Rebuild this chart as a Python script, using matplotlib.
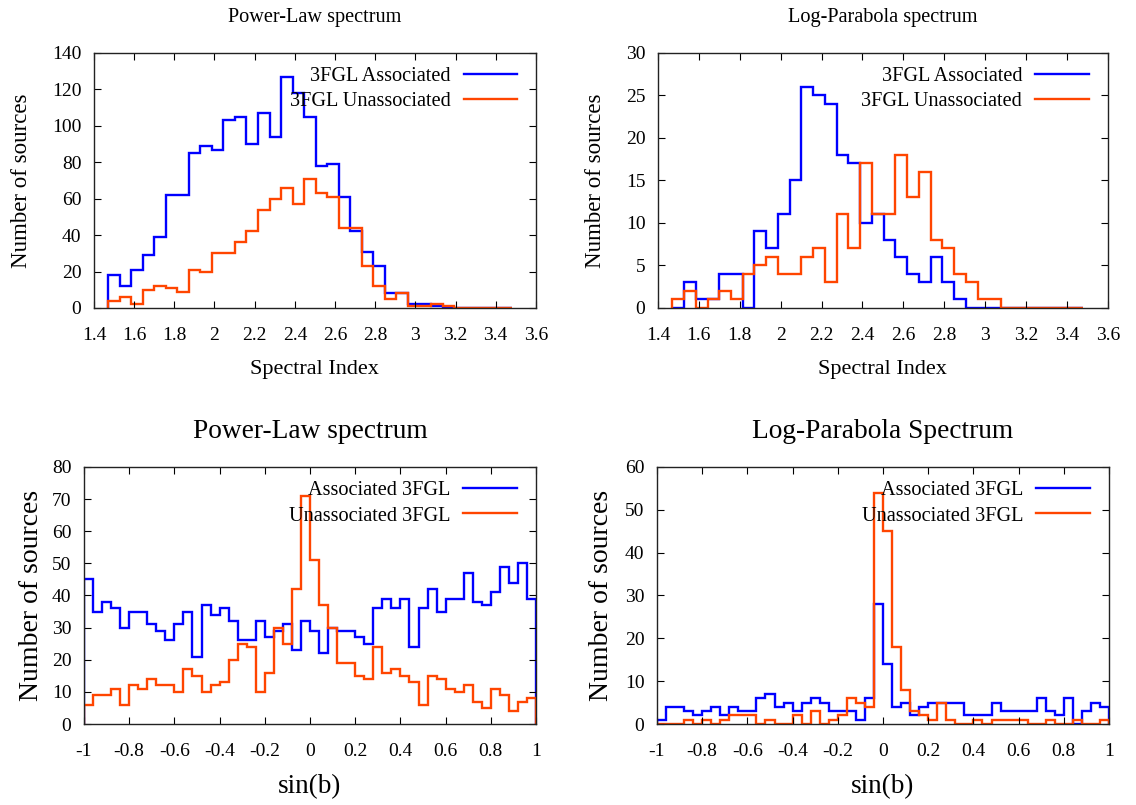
import numpy as np
import matplotlib
matplotlib.use('Agg')
import matplotlib.pyplot as plt
import matplotlib.ticker as mticker

plt.rcParams['font.family'] = ['Liberation Serif', 'DejaVu Serif']
plt.rcParams['axes.unicode_minus'] = False

# spectral index histograms: 35 bins between 1.47 and 3.48
index_edges = np.linspace(1.47, 3.48, 36)
pl_assoc = [18, 12, 21, 29, 39, 62, 62, 85, 89, 87,
            103, 105, 90, 107, 94, 127, 118, 105, 78, 79,
            61, 42, 31, 23, 8, 8, 2, 2, 1, 0,
            0, 0, 0, 0, 0]
pl_unassoc = [4, 6, 2, 10, 12, 11, 9, 21, 20, 30,
              30, 36, 42, 54, 60, 66, 57, 71, 63, 61,
              44, 44, 23, 12, 5, 8, 1, 1, 2, 1,
              0, 0, 0, 0, 0]
lp_assoc = [0, 3, 1, 1, 4, 4, 0, 9, 7, 11,
            15, 26, 25, 24, 18, 17, 10, 11, 8, 6,
            4, 3, 6, 3, 1, 0, 0, 0, 0, 0,
            0, 0, 0, 0, 0]
lp_unassoc = [1, 2, 0, 1, 2, 1, 4, 5, 6, 4,
              4, 6, 7, 3, 11, 7, 17, 11, 11, 18,
              13, 16, 8, 7, 4, 3, 1, 1, 0, 0,
              0, 0, 0, 0, 0]

# sin(b) histograms: 50 bins between -1 and 1
sinb_edges = np.linspace(-1, 1, 51)
pl_assoc_b = [45, 35, 38, 36, 30, 35, 35, 31, 29, 26,
              31, 35, 21, 37, 34, 36, 32, 26, 26, 32,
              27, 29, 31, 23, 32, 29, 22, 30, 29, 29,
              27, 25, 36, 39, 36, 39, 24, 36, 42, 35,
              39, 39, 47, 38, 37, 41, 49, 44, 50, 39]
pl_unassoc_b = [6, 9, 9, 11, 6, 12, 11, 14, 12, 12,
                10, 17, 15, 10, 12, 13, 20, 25, 24, 10,
                16, 30, 25, 42, 71, 51, 37, 30, 19, 19,
                15, 14, 24, 16, 17, 15, 13, 6, 15, 14,
                11, 10, 12, 7, 5, 11, 9, 4, 7, 8]
lp_assoc_b = [1, 4, 4, 3, 2, 3, 4, 2, 4, 3,
              3, 6, 7, 4, 5, 3, 5, 6, 5, 3,
              3, 3, 1, 6, 28, 14, 4, 5, 2, 4,
              5, 5, 5, 5, 2, 2, 2, 5, 3, 3,
              3, 3, 6, 3, 2, 6, 0, 3, 5, 4]
lp_unassoc_b = [0, 0, 0, 1, 0, 1, 0, 1, 2, 2,
                2, 0, 1, 0, 0, 2, 0, 3, 0, 1,
                2, 6, 5, 4, 54, 45, 18, 8, 3, 2,
                1, 5, 1, 0, 0, 1, 0, 1, 1, 1,
                1, 0, 0, 1, 0, 0, 1, 0, 0, 1]

BLUE = '#0000ff'
ORANGE = '#ff4500'

fig = plt.figure(figsize=(11.36, 8.05), dpi=100)

ax_tl = fig.add_axes([0.0827, 0.6174, 0.389, 0.3168])
ax_tr = fig.add_axes([0.5792, 0.6174, 0.396, 0.3168])
ax_bl = fig.add_axes([0.0739, 0.1006, 0.398, 0.3193])
ax_br = fig.add_axes([0.5783, 0.1006, 0.398, 0.3193])


def style(ax, xlim, xstep, ylim, ystep):
    ax.set_xlim(*xlim)
    ax.set_ylim(*ylim)
    ax.xaxis.set_major_locator(mticker.MultipleLocator(xstep))
    ax.yaxis.set_major_locator(mticker.MultipleLocator(ystep))
    ax.xaxis.set_major_formatter(mticker.FuncFormatter(lambda v, p: '%g' % round(v, 6)))
    ax.yaxis.set_major_formatter(mticker.FuncFormatter(lambda v, p: '%g' % round(v, 6)))
    ax.tick_params(direction='in', length=5, width=0.8, top=True, right=True,
                   labelsize=14, colors='black')
    ax.tick_params(axis='x', pad=14)
    ax.tick_params(axis='y', pad=9)
    for s in ax.spines.values():
        s.set_linewidth(1.0)
        s.set_color('#222222')


def hist_pair(ax, edges, a, u, labels):
    ax.stairs(a, edges, baseline=0, color=BLUE, lw=1.7, label=labels[0])
    ax.stairs(u, edges, baseline=0, color=ORANGE, lw=1.7, label=labels[1])
    leg = ax.legend(loc='upper right', bbox_to_anchor=(0.958, 0.945), frameon=False,
                    markerfirst=False, borderpad=0, handlelength=2.65,
                    handletextpad=0.65, labelspacing=0.3, fontsize=14.6,
                    borderaxespad=0)
    for line in leg.get_lines():
        line.set_linewidth(1.7)


# top left
hist_pair(ax_tl, index_edges, pl_assoc, pl_unassoc,
          ['3FGL Associated', '3FGL Unassociated'])
style(ax_tl, (1.4, 3.6), 0.2, (0, 140), 20)
ax_tl.set_title('Power-Law spectrum', fontsize=14.6, pad=22)
ax_tl.set_xlabel('Spectral Index', fontsize=16)
ax_tl.set_ylabel('Number of sources', fontsize=16.5)
ax_tl.xaxis.set_label_coords(0.5, -0.205)
ax_tl.yaxis.set_label_coords(-0.14, 0.5)

# top right
hist_pair(ax_tr, index_edges, lp_assoc, lp_unassoc,
          ['3FGL Associated', '3FGL Unassociated'])
style(ax_tr, (1.4, 3.6), 0.2, (0, 30), 5)
ax_tr.set_title('Log-Parabola spectrum', fontsize=14.6, pad=22)
ax_tr.set_xlabel('Spectral Index', fontsize=16)
ax_tr.set_ylabel('Number of sources', fontsize=16.5)
ax_tr.xaxis.set_label_coords(0.5, -0.205)
ax_tr.yaxis.set_label_coords(-0.116, 0.5)

# bottom left
hist_pair(ax_bl, sinb_edges, pl_assoc_b, pl_unassoc_b,
          ['Associated 3FGL', 'Unassociated 3FGL'])
style(ax_bl, (-1, 1), 0.2, (0, 80), 10)
ax_bl.set_title('Power-Law spectrum', fontsize=19.7, pad=21)
ax_bl.set_xlabel('sin(b)', fontsize=19.5)
ax_bl.set_ylabel('Number of sources', fontsize=20)
ax_bl.xaxis.set_label_coords(0.5, -0.195)
ax_bl.yaxis.set_label_coords(-0.088, 0.5)

# bottom right
hist_pair(ax_br, sinb_edges, lp_assoc_b, lp_unassoc_b,
          ['Associated 3FGL', 'Unassociated 3FGL'])
style(ax_br, (-1, 1), 0.2, (0, 60), 10)
ax_br.set_title('Log-Parabola Spectrum', fontsize=19.7, pad=21)
ax_br.set_xlabel('sin(b)', fontsize=19.5)
ax_br.set_ylabel('Number of sources', fontsize=20)
ax_br.xaxis.set_label_coords(0.5, -0.195)
ax_br.yaxis.set_label_coords(-0.095, 0.5)

fig.savefig('out.png', dpi=100)
